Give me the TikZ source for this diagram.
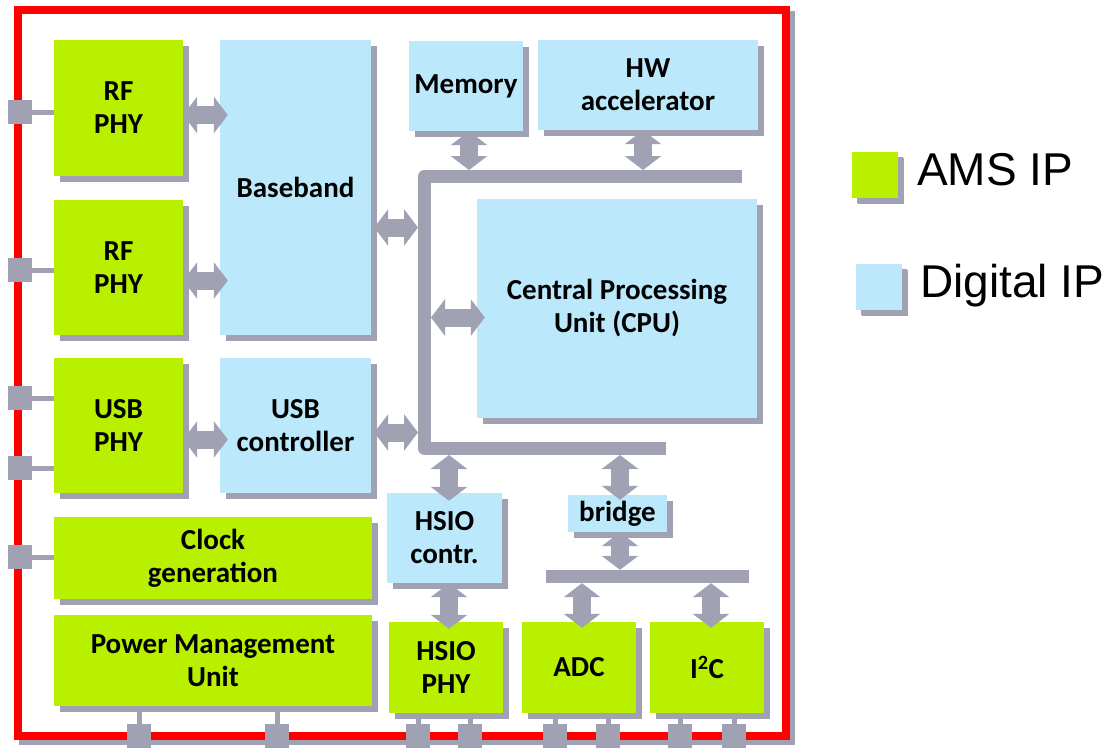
\documentclass[tikz,border=0pt]{standalone}
\usepackage{fontspec}
\setmainfont{Carlito}
\newfontfamily\legfont{Liberation Sans}
\usetikzlibrary{arrows.meta,calc,shadows}
\definecolor{amsgreen}{RGB}{184,240,0}
\definecolor{digblue}{RGB}{187,233,251}
\definecolor{sgrey}{RGB}{160,162,180}
\definecolor{framered}{RGB}{255,0,0}
\tikzset{
  blk/.style={inner sep=0pt, align=center, text=black,
    font=\fontsize{29}{33}\selectfont\bfseries,
    drop shadow={shadow xshift=6pt, shadow yshift=-6pt, fill=sgrey, opacity=1}},
  ams/.style={blk, fill=amsgreen},
  dig/.style={blk, fill=digblue},
  pad/.style={fill=sgrey, inner sep=0pt, minimum size=24pt},
  stub/.style={draw=sgrey, line width=5pt},
  busbar/.style={fill=sgrey, inner sep=0pt},
  barrow/.style={draw=sgrey, line width=18pt,
    {Triangle[length=14pt,width=36pt]}-{Triangle[length=14pt,width=36pt]}},
  legtext/.style={inner sep=0pt, anchor=base west, font=\legfont\fontsize{46}{50}\selectfont},
}
\begin{document}
\begin{tikzpicture}[x=1pt,y=-1pt]
\useasboundingbox (0,0) rectangle (1115,750);

% chip outline with its shadow
\fill[sgrey] (19,11) rectangle (795,745);
\draw[framered, line width=8pt, fill=white] (18,10) rectangle (786,736);

% I/O pads on the outline
\node[pad] (pl1) at (19.5,112) {};
\node[pad] (pl2) at (19.5,270) {};
\node[pad] (pl3) at (19.5,398) {};
\node[pad] (pl4) at (19.5,468) {};
\node[pad] (pl5) at (19.5,557) {};
\node[pad] (pb1) at (139,736) {};
\node[pad] (pb2) at (277,736) {};
\node[pad] (pb3) at (418,736) {};
\node[pad] (pb4) at (470,736) {};
\node[pad] (pb5) at (555,736) {};
\node[pad] (pb6) at (608,736) {};
\node[pad] (pb7) at (680,736) {};
\node[pad] (pb8) at (734,736) {};

% IP blocks
\node[ams, minimum width=129pt, minimum height=136pt] (rf1) at (118.5,108) {RF\\PHY};
\node[ams, minimum width=129pt, minimum height=135pt] (rf2) at (118.5,267.5) {RF\\PHY};
\node[ams, minimum width=129pt, minimum height=135pt] (usbphy) at (118.5,425.5) {USB\\PHY};
\node[ams, minimum width=318pt, minimum height=82pt] (clk) at (213,558) {Clock\\generation};
\node[ams, minimum width=318pt, minimum height=91pt] (pmu) at (213,660.5) {Power Management\\Unit};
\node[dig, minimum width=151pt, minimum height=295pt] (bb) at (295.5,187.5) {Baseband};
\node[dig, minimum width=151pt, minimum height=135pt] (usbc) at (295.5,425.5) {USB\\controller};
\node[dig, minimum width=114pt, minimum height=90pt] (mem) at (466,86) {Memory};
\node[dig, minimum width=220pt, minimum height=90pt] (hw) at (648,85) {HW\\accelerator};
\node[dig, minimum width=280pt, minimum height=219pt] (cpu) at (617,308.5) {Central Processing\\Unit (CPU)};
\node[dig, minimum width=115pt, minimum height=90pt] (hsioc) at (444.5,538) {HSIO\\contr.};
\node[dig, minimum width=99pt, minimum height=37pt] (bridge) at (617.5,513.5) {bridge};
\node[ams, minimum width=114pt, minimum height=91pt] (hsiop) at (446,667.5) {HSIO\\PHY};
\node[ams, minimum width=114pt, minimum height=91pt] (adc) at (579,667.5) {ADC};
\node[ams, minimum width=114pt, minimum height=91pt] (i2c) at (707,667.5) {I\textsuperscript{2}C};

% pad connections
\draw[stub] (pl1.east) -- (pl1 -| rf1.west);
\draw[stub] (pl2.east) -- (pl2 -| rf2.west);
\draw[stub] (pl3.east) -- (pl3 -| usbphy.west);
\draw[stub] (pl4.east) -- (pl4 -| usbphy.west);
\draw[stub] (pl5.east) -- (pl5 -| clk.west);
\draw[stub] (pb1.north) -- (pb1 |- pmu.south);
\draw[stub] (pb2.north) -- (pb2 |- pmu.south);
\draw[stub] (pb3.north) -- (pb3 |- hsiop.south);
\draw[stub] (pb4.north) -- (pb4 |- hsiop.south);
\draw[stub] (pb5.north) -- (pb5 |- adc.south);
\draw[stub] (pb6.north) -- (pb6 |- adc.south);
\draw[stub] (pb7.north) -- (pb7 |- i2c.south);
\draw[stub] (pb8.north) -- (pb8 |- i2c.south);

% system bus
\coordinate (busT) at (424.5,170);
\coordinate (busL) at (418,176);
\coordinate (busR) at (431,176);
\coordinate (busB) at (424.5,455);
\draw[sgrey, line width=13pt, line join=round]
  (742,176) -- (424.5,176) -- (424.5,448.5) -- (666,448.5);
\node[busbar, minimum width=203pt, minimum height=13pt] (lowbus) at (647.5,576.5) {};

% data paths
\draw[barrow] ($(rf1.east)+(0,7)$) -- ($(rf1.east -| bb.west)+(8,7)$);
\draw[barrow] ($(rf2.east)+(0,13)$) -- ($(rf2.east -| bb.west)+(8,13)$);
\draw[barrow] ($(usbphy.east)+(0,14)$) -- ($(usbphy.east -| usbc.west)+(8,14)$);
\draw[barrow] ($(bb.east)+(3,40)$) -- ($(bb.east -| busL)+(0,40)$);
\draw[barrow] ($(usbc.east)+(3,7)$) -- ($(usbc.east -| busL)+(0,7)$);
\draw[barrow] ($(cpu.west -| busR)+(0,9)$) -- ($(cpu.west)+(8,9)$);
\draw[barrow] ($(mem.south)+(3,0)$) -- ($(mem.south |- busT)+(3,0)$);
\draw[barrow] ($(hw.south)+(-5,0)$) -- ($(hw.south |- busT)+(-5,0)$);
\draw[barrow] ($(hsioc.north |- busB)+(4.5,0)$) -- ($(hsioc.north)+(4.5,8)$);
\draw[barrow] ($(bridge.north |- busB)+(2.5,0)$) -- ($(bridge.north)+(2.5,5)$);
\draw[barrow] ($(bridge.south)+(2.5,0)$) -- ($(bridge.south |- lowbus.north)+(2.5,0)$);
\draw[barrow] ($(hsioc.south)+(4.5,0)$) -- ($(hsiop.north)+(3,7)$);
\draw[barrow] ($(adc.north |- lowbus.south)+(3,0)$) -- ($(adc.north)+(3,6)$);
\draw[barrow] ($(i2c.north |- lowbus.south)+(4,0)$) -- ($(i2c.north)+(4,6)$);

% legend
\node[blk, fill=amsgreen, minimum size=46pt,
  drop shadow={shadow xshift=5pt, shadow yshift=-5pt, fill=sgrey, opacity=1}] (lgA) at (875,175) {};
\node[legtext] (ltA) at (917,185) {AMS IP};
\node[blk, fill=digblue, minimum size=46pt,
  drop shadow={shadow xshift=5pt, shadow yshift=-5pt, fill=sgrey, opacity=1}] (lgD) at (879,287) {};
\node[legtext] (ltD) at (920,297) {Digital IP};
\end{tikzpicture}
\end{document}
